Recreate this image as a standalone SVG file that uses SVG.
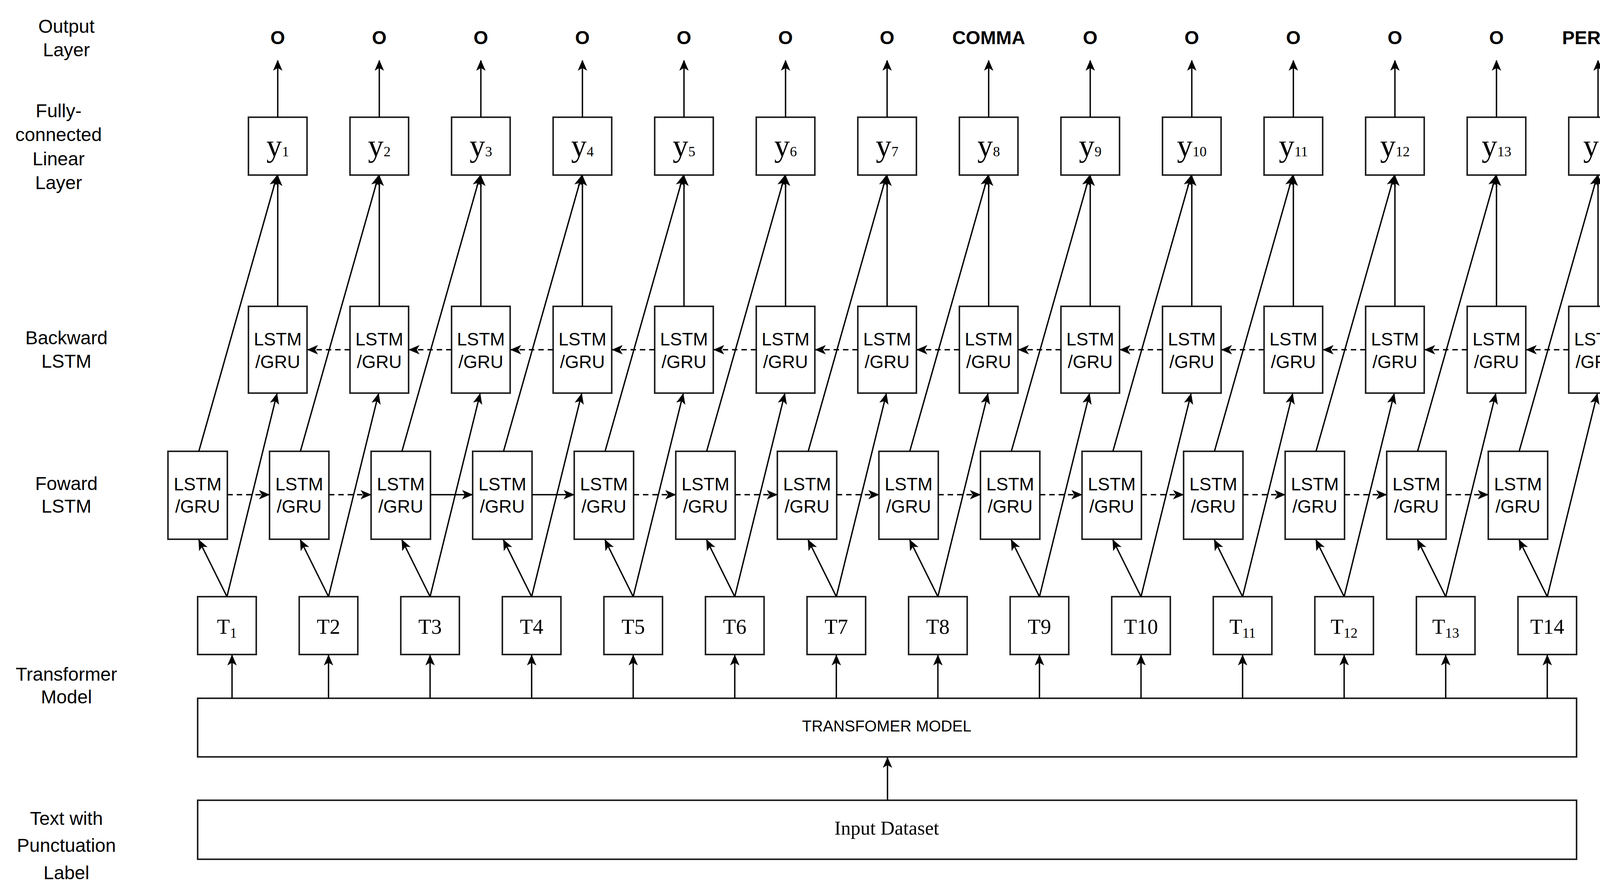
<svg xmlns="http://www.w3.org/2000/svg" width="4216" height="2270" viewBox="0 0 4216 2270">
<defs>
<marker id="ah" markerUnits="userSpaceOnUse" markerWidth="30" markerHeight="30" refX="26" refY="12" orient="auto" viewBox="0 0 30 24"><path d="M0,0 L28,12 L0,24 L7,12 Z" fill="#000"/></marker>
</defs>
<style>
.b{fill:#fff;stroke:#222;stroke-width:4}
.s{font-family:"Liberation Sans",Arial,sans-serif;font-size:46px;text-anchor:middle;fill:#000}
.lab{font-family:"Liberation Sans",Arial,sans-serif;font-size:48px;text-anchor:middle;fill:#000}
.o{font-family:"Liberation Sans",Arial,sans-serif;font-size:48px;font-weight:bold;text-anchor:middle}
.y{font-family:"Liberation Serif","Times New Roman",serif;font-size:80px;text-anchor:middle}
.t{font-family:"Liberation Serif","Times New Roman",serif;font-size:54px;text-anchor:middle}
.sub{font-size:36px}
.c line{stroke:#000;stroke-width:3.5;fill:none}
.c .a{marker-end:url(#ah)}
.c .d{stroke-dasharray:14 10}
</style>
<rect width="4216" height="2270" fill="#fff"/>
<g id="labels">
<text class="lab" x="170" y="84">Output</text><text class="lab" x="170" y="144">Layer</text>
<text class="lab" x="150" y="300">Fully-</text><text class="lab" x="150" y="361">connected</text><text class="lab" x="150" y="423">Linear</text><text class="lab" x="150" y="484">Layer</text>
<text class="lab" x="170" y="881">Backward</text><text class="lab" x="170" y="941">LSTM</text>
<text class="lab" x="170" y="1254">Foward</text><text class="lab" x="170" y="1312">LSTM</text>
<text class="lab" x="170" y="1742">Transformer</text><text class="lab" x="170" y="1800">Model</text>
<text class="lab" x="170" y="2111">Text with</text><text class="lab" x="170" y="2180">Punctuation</text><text class="lab" x="170" y="2250">Label</text>
</g>
<g id="transformer"><rect class="b" x="506" y="1787" width="3530" height="150"/><text class="s" x="2270" y="1872" style="font-size:40px">TRANSFOMER MODEL</text></g>
<g id="input"><rect class="b" x="506" y="2048" width="3530" height="151"/><text class="t" x="2270" y="2136" style="font-size:50px">Input Dataset</text></g>

<g id="outputs" class="o">
<text x="711" y="113">O</text><text x="971" y="113">O</text><text x="1231" y="113">O</text><text x="1491" y="113">O</text><text x="1751" y="113">O</text><text x="2011" y="113">O</text><text x="2271" y="113">O</text><text x="2531" y="113">COMMA</text><text x="2791" y="113">O</text><text x="3051" y="113">O</text><text x="3311" y="113">O</text><text x="3571" y="113">O</text><text x="3831" y="113">O</text><text x="4091" y="113">PERIOD</text>
</g>

<g id="y1"><rect class="b" x="636" y="300" width="150" height="148"/><text class="y" x="711" y="400">y<tspan class="sub">1</tspan></text></g>
<g id="y2" transform="translate(260)"><rect class="b" x="636" y="300" width="150" height="148"/><text class="y" x="711" y="400">y<tspan class="sub">2</tspan></text></g>
<g id="y3" transform="translate(520)"><rect class="b" x="636" y="300" width="150" height="148"/><text class="y" x="711" y="400">y<tspan class="sub">3</tspan></text></g>
<g id="y4" transform="translate(780)"><rect class="b" x="636" y="300" width="150" height="148"/><text class="y" x="711" y="400">y<tspan class="sub">4</tspan></text></g>
<g id="y5" transform="translate(1040)"><rect class="b" x="636" y="300" width="150" height="148"/><text class="y" x="711" y="400">y<tspan class="sub">5</tspan></text></g>
<g id="y6" transform="translate(1300)"><rect class="b" x="636" y="300" width="150" height="148"/><text class="y" x="711" y="400">y<tspan class="sub">6</tspan></text></g>
<g id="y7" transform="translate(1560)"><rect class="b" x="636" y="300" width="150" height="148"/><text class="y" x="711" y="400">y<tspan class="sub">7</tspan></text></g>
<g id="y8" transform="translate(1820)"><rect class="b" x="636" y="300" width="150" height="148"/><text class="y" x="711" y="400">y<tspan class="sub">8</tspan></text></g>
<g id="y9" transform="translate(2080)"><rect class="b" x="636" y="300" width="150" height="148"/><text class="y" x="711" y="400">y<tspan class="sub">9</tspan></text></g>
<g id="y10" transform="translate(2340)"><rect class="b" x="636" y="300" width="150" height="148"/><text class="y" x="711" y="400">y<tspan class="sub">10</tspan></text></g>
<g id="y11" transform="translate(2600)"><rect class="b" x="636" y="300" width="150" height="148"/><text class="y" x="711" y="400">y<tspan class="sub">11</tspan></text></g>
<g id="y12" transform="translate(2860)"><rect class="b" x="636" y="300" width="150" height="148"/><text class="y" x="711" y="400">y<tspan class="sub">12</tspan></text></g>
<g id="y13" transform="translate(3120)"><rect class="b" x="636" y="300" width="150" height="148"/><text class="y" x="711" y="400">y<tspan class="sub">13</tspan></text></g>
<g id="y14" transform="translate(3380)"><rect class="b" x="636" y="300" width="150" height="148"/><text class="y" x="711" y="400">y<tspan class="sub">14</tspan></text></g>

<g id="bw1"><rect class="b" x="636" y="784" width="150" height="222"/><text class="s" x="711" y="884">LSTM</text><text class="s" x="711" y="942">/GRU</text></g>
<g id="bw2" transform="translate(260)"><rect class="b" x="636" y="784" width="150" height="222"/><text class="s" x="711" y="884">LSTM</text><text class="s" x="711" y="942">/GRU</text></g>
<g id="bw3" transform="translate(520)"><rect class="b" x="636" y="784" width="150" height="222"/><text class="s" x="711" y="884">LSTM</text><text class="s" x="711" y="942">/GRU</text></g>
<g id="bw4" transform="translate(780)"><rect class="b" x="636" y="784" width="150" height="222"/><text class="s" x="711" y="884">LSTM</text><text class="s" x="711" y="942">/GRU</text></g>
<g id="bw5" transform="translate(1040)"><rect class="b" x="636" y="784" width="150" height="222"/><text class="s" x="711" y="884">LSTM</text><text class="s" x="711" y="942">/GRU</text></g>
<g id="bw6" transform="translate(1300)"><rect class="b" x="636" y="784" width="150" height="222"/><text class="s" x="711" y="884">LSTM</text><text class="s" x="711" y="942">/GRU</text></g>
<g id="bw7" transform="translate(1560)"><rect class="b" x="636" y="784" width="150" height="222"/><text class="s" x="711" y="884">LSTM</text><text class="s" x="711" y="942">/GRU</text></g>
<g id="bw8" transform="translate(1820)"><rect class="b" x="636" y="784" width="150" height="222"/><text class="s" x="711" y="884">LSTM</text><text class="s" x="711" y="942">/GRU</text></g>
<g id="bw9" transform="translate(2080)"><rect class="b" x="636" y="784" width="150" height="222"/><text class="s" x="711" y="884">LSTM</text><text class="s" x="711" y="942">/GRU</text></g>
<g id="bw10" transform="translate(2340)"><rect class="b" x="636" y="784" width="150" height="222"/><text class="s" x="711" y="884">LSTM</text><text class="s" x="711" y="942">/GRU</text></g>
<g id="bw11" transform="translate(2600)"><rect class="b" x="636" y="784" width="150" height="222"/><text class="s" x="711" y="884">LSTM</text><text class="s" x="711" y="942">/GRU</text></g>
<g id="bw12" transform="translate(2860)"><rect class="b" x="636" y="784" width="150" height="222"/><text class="s" x="711" y="884">LSTM</text><text class="s" x="711" y="942">/GRU</text></g>
<g id="bw13" transform="translate(3120)"><rect class="b" x="636" y="784" width="150" height="222"/><text class="s" x="711" y="884">LSTM</text><text class="s" x="711" y="942">/GRU</text></g>
<g id="bw14" transform="translate(3380)"><rect class="b" x="636" y="784" width="150" height="222"/><text class="s" x="711" y="884">LSTM</text><text class="s" x="711" y="942">/GRU</text></g>

<g id="fw1"><rect class="b" x="430" y="1155" width="152" height="225"/><text class="s" x="506" y="1255">LSTM</text><text class="s" x="506" y="1312">/GRU</text></g>
<g id="fw2" transform="translate(260)"><rect class="b" x="430" y="1155" width="152" height="225"/><text class="s" x="506" y="1255">LSTM</text><text class="s" x="506" y="1312">/GRU</text></g>
<g id="fw3" transform="translate(520)"><rect class="b" x="430" y="1155" width="152" height="225"/><text class="s" x="506" y="1255">LSTM</text><text class="s" x="506" y="1312">/GRU</text></g>
<g id="fw4" transform="translate(780)"><rect class="b" x="430" y="1155" width="152" height="225"/><text class="s" x="506" y="1255">LSTM</text><text class="s" x="506" y="1312">/GRU</text></g>
<g id="fw5" transform="translate(1040)"><rect class="b" x="430" y="1155" width="152" height="225"/><text class="s" x="506" y="1255">LSTM</text><text class="s" x="506" y="1312">/GRU</text></g>
<g id="fw6" transform="translate(1300)"><rect class="b" x="430" y="1155" width="152" height="225"/><text class="s" x="506" y="1255">LSTM</text><text class="s" x="506" y="1312">/GRU</text></g>
<g id="fw7" transform="translate(1560)"><rect class="b" x="430" y="1155" width="152" height="225"/><text class="s" x="506" y="1255">LSTM</text><text class="s" x="506" y="1312">/GRU</text></g>
<g id="fw8" transform="translate(1820)"><rect class="b" x="430" y="1155" width="152" height="225"/><text class="s" x="506" y="1255">LSTM</text><text class="s" x="506" y="1312">/GRU</text></g>
<g id="fw9" transform="translate(2080)"><rect class="b" x="430" y="1155" width="152" height="225"/><text class="s" x="506" y="1255">LSTM</text><text class="s" x="506" y="1312">/GRU</text></g>
<g id="fw10" transform="translate(2340)"><rect class="b" x="430" y="1155" width="152" height="225"/><text class="s" x="506" y="1255">LSTM</text><text class="s" x="506" y="1312">/GRU</text></g>
<g id="fw11" transform="translate(2600)"><rect class="b" x="430" y="1155" width="152" height="225"/><text class="s" x="506" y="1255">LSTM</text><text class="s" x="506" y="1312">/GRU</text></g>
<g id="fw12" transform="translate(2860)"><rect class="b" x="430" y="1155" width="152" height="225"/><text class="s" x="506" y="1255">LSTM</text><text class="s" x="506" y="1312">/GRU</text></g>
<g id="fw13" transform="translate(3120)"><rect class="b" x="430" y="1155" width="152" height="225"/><text class="s" x="506" y="1255">LSTM</text><text class="s" x="506" y="1312">/GRU</text></g>
<g id="fw14" transform="translate(3380)"><rect class="b" x="430" y="1155" width="152" height="225"/><text class="s" x="506" y="1255">LSTM</text><text class="s" x="506" y="1312">/GRU</text></g>

<g id="t1"><rect class="b" x="506" y="1527" width="150" height="148"/><text class="t" x="581" y="1622">T<tspan class="sub" dy="10">1</tspan></text></g>
<g id="t2" transform="translate(260)"><rect class="b" x="506" y="1527" width="150" height="148"/><text class="t" x="581" y="1622">T2</text></g>
<g id="t3" transform="translate(520)"><rect class="b" x="506" y="1527" width="150" height="148"/><text class="t" x="581" y="1622">T3</text></g>
<g id="t4" transform="translate(780)"><rect class="b" x="506" y="1527" width="150" height="148"/><text class="t" x="581" y="1622">T4</text></g>
<g id="t5" transform="translate(1040)"><rect class="b" x="506" y="1527" width="150" height="148"/><text class="t" x="581" y="1622">T5</text></g>
<g id="t6" transform="translate(1300)"><rect class="b" x="506" y="1527" width="150" height="148"/><text class="t" x="581" y="1622">T6</text></g>
<g id="t7" transform="translate(1560)"><rect class="b" x="506" y="1527" width="150" height="148"/><text class="t" x="581" y="1622">T7</text></g>
<g id="t8" transform="translate(1820)"><rect class="b" x="506" y="1527" width="150" height="148"/><text class="t" x="581" y="1622">T8</text></g>
<g id="t9" transform="translate(2080)"><rect class="b" x="506" y="1527" width="150" height="148"/><text class="t" x="581" y="1622">T9</text></g>
<g id="t10" transform="translate(2340)"><rect class="b" x="506" y="1527" width="150" height="148"/><text class="t" x="581" y="1622">T10</text></g>
<g id="t11" transform="translate(2600)"><rect class="b" x="506" y="1527" width="150" height="148"/><text class="t" x="581" y="1622">T<tspan class="sub" dy="10">11</tspan></text></g>
<g id="t12" transform="translate(2860)"><rect class="b" x="506" y="1527" width="150" height="148"/><text class="t" x="581" y="1622">T<tspan class="sub" dy="10">12</tspan></text></g>
<g id="t13" transform="translate(3120)"><rect class="b" x="506" y="1527" width="150" height="148"/><text class="t" x="581" y="1622">T<tspan class="sub" dy="10">13</tspan></text></g>
<g id="t14" transform="translate(3380)"><rect class="b" x="506" y="1527" width="150" height="148"/><text class="t" x="581" y="1622">T14</text></g>

<g id="connectors" class="c">
<line class="a" x1="2272" y1="2048" x2="2272" y2="1939"/>
<line class="a" x1="594" y1="1787" x2="594" y2="1677"/>
<g id="col1"><line class="a" x1="711" y1="300" x2="711" y2="155"/><line class="a" x1="711" y1="784" x2="711" y2="450"/><line class="a" x1="509" y1="1155" x2="709" y2="450"/><line class="a" x1="581" y1="1527" x2="509" y2="1382"/><line class="a" x1="581" y1="1527" x2="709" y2="1008"/><line class="a d" x1="582" y1="1266" x2="689" y2="1266"/><line class="a d" x1="896" y1="895" x2="788" y2="895"/></g>
<g transform="translate(260)"><line class="a" x1="711" y1="300" x2="711" y2="155"/><line class="a" x1="711" y1="784" x2="711" y2="450"/><line class="a" x1="509" y1="1155" x2="709" y2="450"/><line class="a" x1="581" y1="1527" x2="509" y2="1382"/><line class="a" x1="581" y1="1527" x2="709" y2="1008"/><line class="a" x1="581" y1="1787" x2="581" y2="1677"/><line class="a d" x1="582" y1="1266" x2="689" y2="1266"/><line class="a d" x1="896" y1="895" x2="788" y2="895"/></g>
<g transform="translate(520)"><line class="a" x1="711" y1="300" x2="711" y2="155"/><line class="a" x1="711" y1="784" x2="711" y2="450"/><line class="a" x1="509" y1="1155" x2="709" y2="450"/><line class="a" x1="581" y1="1527" x2="509" y2="1382"/><line class="a" x1="581" y1="1527" x2="709" y2="1008"/><line class="a" x1="581" y1="1787" x2="581" y2="1677"/><line class="a" x1="582" y1="1266" x2="689" y2="1266"/><line class="a d" x1="896" y1="895" x2="788" y2="895"/></g>
<g transform="translate(780)"><line class="a" x1="711" y1="300" x2="711" y2="155"/><line class="a" x1="711" y1="784" x2="711" y2="450"/><line class="a" x1="509" y1="1155" x2="709" y2="450"/><line class="a" x1="581" y1="1527" x2="509" y2="1382"/><line class="a" x1="581" y1="1527" x2="709" y2="1008"/><line class="a" x1="581" y1="1787" x2="581" y2="1677"/><line class="a" x1="582" y1="1266" x2="689" y2="1266"/><line class="a d" x1="896" y1="895" x2="788" y2="895"/></g>
<g transform="translate(1040)"><line class="a" x1="711" y1="300" x2="711" y2="155"/><line class="a" x1="711" y1="784" x2="711" y2="450"/><line class="a" x1="509" y1="1155" x2="709" y2="450"/><line class="a" x1="581" y1="1527" x2="509" y2="1382"/><line class="a" x1="581" y1="1527" x2="709" y2="1008"/><line class="a" x1="581" y1="1787" x2="581" y2="1677"/><line class="a d" x1="582" y1="1266" x2="689" y2="1266"/><line class="a d" x1="896" y1="895" x2="788" y2="895"/></g>
<g transform="translate(1300)"><line class="a" x1="711" y1="300" x2="711" y2="155"/><line class="a" x1="711" y1="784" x2="711" y2="450"/><line class="a" x1="509" y1="1155" x2="709" y2="450"/><line class="a" x1="581" y1="1527" x2="509" y2="1382"/><line class="a" x1="581" y1="1527" x2="709" y2="1008"/><line class="a" x1="581" y1="1787" x2="581" y2="1677"/><line class="a d" x1="582" y1="1266" x2="689" y2="1266"/><line class="a d" x1="896" y1="895" x2="788" y2="895"/></g>
<g transform="translate(1560)"><line class="a" x1="711" y1="300" x2="711" y2="155"/><line class="a" x1="711" y1="784" x2="711" y2="450"/><line class="a" x1="509" y1="1155" x2="709" y2="450"/><line class="a" x1="581" y1="1527" x2="509" y2="1382"/><line class="a" x1="581" y1="1527" x2="709" y2="1008"/><line class="a" x1="581" y1="1787" x2="581" y2="1677"/><line class="a d" x1="582" y1="1266" x2="689" y2="1266"/><line class="a d" x1="896" y1="895" x2="788" y2="895"/></g>
<g transform="translate(1820)"><line class="a" x1="711" y1="300" x2="711" y2="155"/><line class="a" x1="711" y1="784" x2="711" y2="450"/><line class="a" x1="509" y1="1155" x2="709" y2="450"/><line class="a" x1="581" y1="1527" x2="509" y2="1382"/><line class="a" x1="581" y1="1527" x2="709" y2="1008"/><line class="a" x1="581" y1="1787" x2="581" y2="1677"/><line class="a d" x1="582" y1="1266" x2="689" y2="1266"/><line class="a d" x1="896" y1="895" x2="788" y2="895"/></g>
<g transform="translate(2080)"><line class="a" x1="711" y1="300" x2="711" y2="155"/><line class="a" x1="711" y1="784" x2="711" y2="450"/><line class="a" x1="509" y1="1155" x2="709" y2="450"/><line class="a" x1="581" y1="1527" x2="509" y2="1382"/><line class="a" x1="581" y1="1527" x2="709" y2="1008"/><line class="a" x1="581" y1="1787" x2="581" y2="1677"/><line class="a d" x1="582" y1="1266" x2="689" y2="1266"/><line class="a d" x1="896" y1="895" x2="788" y2="895"/></g>
<g transform="translate(2340)"><line class="a" x1="711" y1="300" x2="711" y2="155"/><line class="a" x1="711" y1="784" x2="711" y2="450"/><line class="a" x1="509" y1="1155" x2="709" y2="450"/><line class="a" x1="581" y1="1527" x2="509" y2="1382"/><line class="a" x1="581" y1="1527" x2="709" y2="1008"/><line class="a" x1="581" y1="1787" x2="581" y2="1677"/><line class="a d" x1="582" y1="1266" x2="689" y2="1266"/><line class="a d" x1="896" y1="895" x2="788" y2="895"/></g>
<g transform="translate(2600)"><line class="a" x1="711" y1="300" x2="711" y2="155"/><line class="a" x1="711" y1="784" x2="711" y2="450"/><line class="a" x1="509" y1="1155" x2="709" y2="450"/><line class="a" x1="581" y1="1527" x2="509" y2="1382"/><line class="a" x1="581" y1="1527" x2="709" y2="1008"/><line class="a" x1="581" y1="1787" x2="581" y2="1677"/><line class="a d" x1="582" y1="1266" x2="689" y2="1266"/><line class="a d" x1="896" y1="895" x2="788" y2="895"/></g>
<g transform="translate(2860)"><line class="a" x1="711" y1="300" x2="711" y2="155"/><line class="a" x1="711" y1="784" x2="711" y2="450"/><line class="a" x1="509" y1="1155" x2="709" y2="450"/><line class="a" x1="581" y1="1527" x2="509" y2="1382"/><line class="a" x1="581" y1="1527" x2="709" y2="1008"/><line class="a" x1="581" y1="1787" x2="581" y2="1677"/><line class="a d" x1="582" y1="1266" x2="689" y2="1266"/><line class="a d" x1="896" y1="895" x2="788" y2="895"/></g>
<g transform="translate(3120)"><line class="a" x1="711" y1="300" x2="711" y2="155"/><line class="a" x1="711" y1="784" x2="711" y2="450"/><line class="a" x1="509" y1="1155" x2="709" y2="450"/><line class="a" x1="581" y1="1527" x2="509" y2="1382"/><line class="a" x1="581" y1="1527" x2="709" y2="1008"/><line class="a" x1="581" y1="1787" x2="581" y2="1677"/><line class="a d" x1="582" y1="1266" x2="689" y2="1266"/><line class="a d" x1="896" y1="895" x2="788" y2="895"/></g>
<g transform="translate(3380)"><line class="a" x1="711" y1="300" x2="711" y2="155"/><line class="a" x1="711" y1="784" x2="711" y2="450"/><line class="a" x1="509" y1="1155" x2="709" y2="450"/><line class="a" x1="581" y1="1527" x2="509" y2="1382"/><line class="a" x1="581" y1="1527" x2="709" y2="1008"/><line class="a" x1="581" y1="1787" x2="581" y2="1677"/></g>
</g>
</svg>
